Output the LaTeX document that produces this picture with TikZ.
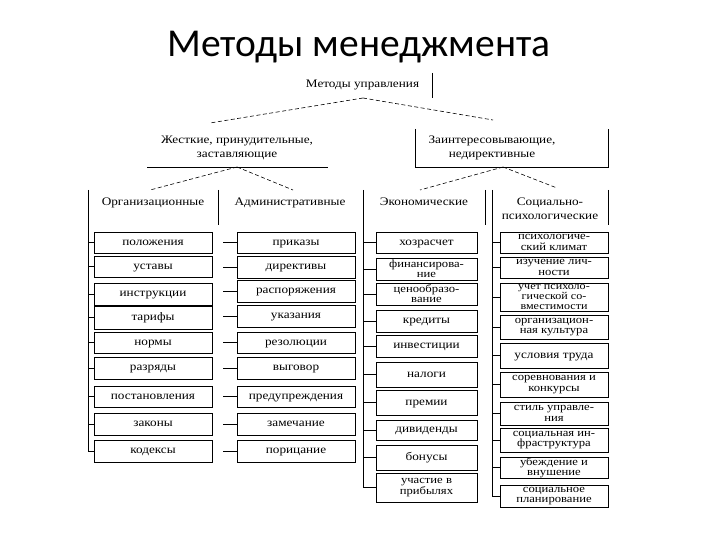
\documentclass[tikz,border=0pt]{standalone}
\usepackage{fontspec}
\setmainfont{Liberation Serif}
\newfontfamily\dfont[FakeStretch=1.15]{Liberation Serif}
\newfontfamily\tfont{Carlito}
\begin{document}
\begin{tikzpicture}[x=1pt,y=-1pt,line width=0.7pt,
  ibox/.style={draw, inner sep=0pt, text height=7.6pt, text depth=2.5pt, font=\dfont\fontsize{11.5}{10}\selectfont},
  mbox/.style={align=center, text height={}, text depth={}, font=\dfont\fontsize{11}{10.2}\selectfont},
  colA/.style={ibox, minimum width=118pt},
  colB/.style={ibox, minimum width=118pt},
  colC/.style={ibox, minimum width=101pt},
  colD/.style={ibox, minimum width=108pt},
  hdr/.style={inner sep=0pt, align=center, font=\dfont\fontsize{11.5}{14}\selectfont},
  hdrone/.style={inner sep=0pt, text height=7.6pt, text depth=2.5pt, font=\dfont\fontsize{11.5}{14}\selectfont},
  dsh/.style={dash pattern=on 4pt off 2.5pt, line width=0.6pt}]
\path[use as bounding box] (0,0) rectangle (720,540);

% title
\node[anchor=base, inner sep=0pt, font=\tfont\fontsize{39.5}{42}\selectfont] (title) at (359,57) {Методы менеджмента};

% level 1
\node[hdrone] (top) at (362.5,85) {Методы управления};
\coordinate (topbar1) at (432,73);
\coordinate (topbar2) at (432,98);
\draw (topbar1) -- (topbar2);
\coordinate (apex) at (363,98);
\coordinate (l2Lend) at (210,123);
\coordinate (l2Rend) at (493,120);
\draw[dsh] (apex) -- (l2Lend);
\draw[dsh] (apex) -- (l2Rend);

% level 2
\node[hdr] (hard) at (237,148) {Жесткие, принудительные,\\заставляющие};
\coordinate (hardL) at (147,167);
\coordinate (hardR) at (328,167);
\draw (hardL) -- (hardR);
\node[hdr] (soft) at (492,148) {Заинтересовывающие,\\недирективные};
\coordinate (softTL) at (415,129);
\coordinate (softBL) at (415,167);
\coordinate (softBR) at (608,167);
\coordinate (softTR) at (608,129);
\draw (softTL) -- (softBL) -- (softBR) -- (softTR);

\coordinate (hardC) at (237,167);
\coordinate (orgEnd) at (150,190);
\coordinate (admEnd) at (293,190);
\draw[dsh] (hardC) -- (orgEnd);
\draw[dsh] (hardC) -- (admEnd);
\coordinate (softC) at (503,167);
\coordinate (ecoEnd) at (420,190);
\coordinate (socEnd) at (557,188);
\draw[dsh] (softC) -- (ecoEnd);
\draw[dsh] (softC) -- (socEnd);

% level 3 headers
\node[hdrone] (org) at (153,203) {Организационные};
\node[hdrone] (adm) at (290,203) {Административные};
\node[hdrone] (eco) at (424,203) {Экономические};
\node[hdr] (soc) at (550,209) {Социально-\\психологические};

\coordinate (sp1) at (88,190);   \coordinate (sp1b) at (88,451);
\coordinate (v2a) at (218,190);  \coordinate (v2b) at (218,225);
\coordinate (sp3) at (363,190);  \coordinate (sp3b) at (363,487.5);
\coordinate (v4a) at (485,190);  \coordinate (v4b) at (485,225);
\coordinate (sp4) at (492,190);  \coordinate (sp4b) at (492,496);
\coordinate (v6a) at (608,190);  \coordinate (v6b) at (608,225);
\coordinate (t2) at (223,240);
\draw (sp1) -- (sp1b);
\draw (v2a) -- (v2b);
\draw (sp3) -- (sp3b);
\draw (v4a) -- (v4b);
\draw (sp4) -- (sp4b);
\draw (v6a) -- (v6b);

% column 1
\node[colA, minimum height=21pt] (a1) at (153,242.5) {положения};
\node[colA, minimum height=21pt] (a2) at (153,266.5) {уставы};
\node[colA, minimum height=22pt] (a3) at (153,294) {инструкции};
\node[colA, minimum height=23pt] (a4) at (153,317.5) {тарифы};
\node[colA, minimum height=21pt] (a5) at (153,342.5) {нормы};
\node[colA, minimum height=22pt] (a6) at (153,368) {разряды};
\node[colA, minimum height=21pt] (a7) at (153,396.5) {постановления};
\node[colA, minimum height=22pt] (a8) at (153,424) {законы};
\node[colA, minimum height=22pt] (a9) at (153,451) {кодексы};

% column 2
\node[colB, minimum height=21pt] (b1) at (296,242.5) {приказы};
\node[colB, minimum height=22pt] (b2) at (296,267) {директивы};
\node[colB, minimum height=22pt] (b3) at (296,291) {распоряжения};
\node[colB, minimum height=22pt] (b4) at (296,316) {указания};
\node[colB, minimum height=21pt] (b5) at (296,342.5) {резолюции};
\node[colB, minimum height=22pt] (b6) at (296,368) {выговор};
\node[colB, minimum height=21pt] (b7) at (296,396.5) {предупреждения};
\node[colB, minimum height=22pt] (b8) at (296,424) {замечание};
\node[colB, minimum height=22pt] (b9) at (296,451) {порицание};

% column 3
\node[colC, minimum height=21pt] (e1) at (426.5,242.5) {хозрасчет};
\node[colC, mbox, minimum height=22pt] (e2) at (426.5,269) {финансирова-\\ние};
\node[colC, mbox, minimum height=22pt] (e3) at (426.5,294) {ценообразо-\\вание};
\node[colC, minimum height=22pt] (e4) at (426.5,321) {кредиты};
\node[colC, minimum height=22pt] (e5) at (426.5,346) {инвестиции};
\node[colC, minimum height=25pt] (e6) at (426.5,374.5) {налоги};
\node[colC, minimum height=25pt] (e7) at (426.5,402.5) {премии};
\node[colC, minimum height=20pt] (e8) at (426.5,430) {дивиденды};
\node[colC, minimum height=25pt] (e9) at (426.5,457.5) {бонусы};
\node[colC, mbox, minimum height=29pt] (e10) at (426.5,487.5) {участие в\\прибылях};

% column 4
\node[colD, mbox, minimum height=21pt] (s1) at (554,242.5) {психологиче-\\ский климат};
\node[colD, mbox, minimum height=21pt] (s2) at (554,267.5) {изучение лич-\\ности};
\node[colD, mbox, minimum height=28pt, font=\dfont\fontsize{10.5}{9.6}\selectfont] (s3) at (554,297) {учет психоло-\\гической со-\\вместимости};
\node[colD, mbox, minimum height=24pt] (s4) at (554,327) {организацион-\\ная культура};
\node[colD, minimum height=25pt] (s5) at (554,355.5) {условия труда};
\node[colD, mbox, minimum height=25pt] (s6) at (554,384.5) {соревнования и\\конкурсы};
\node[colD, mbox, minimum height=23pt] (s7) at (554,413.5) {стиль управле-\\ния};
\node[colD, mbox, minimum height=24pt] (s8) at (554,440) {социальная ин-\\фраструктура};
\node[colD, mbox, minimum height=21pt] (s9) at (554,467.5) {убеждение и\\внушение};
\node[colD, mbox, minimum height=22pt] (s10) at (554,496) {социальное\\планирование};

% ticks
\foreach \n in {a1,a2,a3,a4,a5,a6,a7,a8,a9} \draw (\n.west) -- (\n.west -| sp1);
\foreach \n in {b1,b2,b3,b4,b5,b6,b7,b8,b9} \draw (\n.west) -- (\n.west -| t2);
\foreach \n in {e1,e2,e3,e4,e5,e6,e7,e8,e9,e10} \draw (\n.west) -- (\n.west -| sp3);
\foreach \n in {s1,s2,s3,s4,s5,s6,s7,s8,s9,s10} \draw (\n.west) -- (\n.west -| sp4);
\end{tikzpicture}
\end{document}
